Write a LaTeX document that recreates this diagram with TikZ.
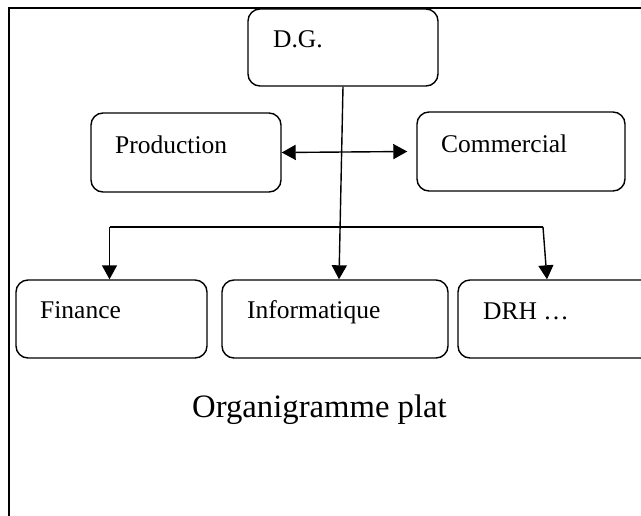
\documentclass[tikz,border=0pt]{standalone}
\usepackage{fontspec}
\setmainfont{Liberation Serif}
\usetikzlibrary{arrows.meta}
\tikzset{
  unit/.style={draw, rounded corners=12pt, line width=1.4pt, inner sep=0pt},
  lbl/.style={anchor=base west, inner sep=0pt, font=\fontsize{25.5}{30}\selectfont},
  tip/.tip={Triangle[length=14pt,width=15pt]},
  arr/.style={line width=1.4pt, -tip},
  dblarr/.style={line width=1.4pt, tip-tip},
  frame/.style={line width=2pt}
}
\begin{document}
\begin{tikzpicture}[x=1pt,y=-1pt]
  \useasboundingbox (0,0) rectangle (641,515);

  % outer frame (top and left sides)
  \coordinate (ftl) at (8.5,7.5);
  \coordinate (ftr) at (650,7.5);
  \coordinate (fbl) at (8.5,525);
  \draw[frame] (ftr) -- (ftl) -- (fbl);

  % units
  \node[unit, minimum width=190pt, minimum height=77pt] (dg)   at (343,47.5)  {};
  \node[unit, minimum width=190pt, minimum height=79pt] (prod) at (186,152.5) {};
  \node[unit, minimum width=208pt, minimum height=79pt] (com)  at (521,151.5) {};
  \node[unit, minimum width=191pt, minimum height=78pt] (fin)  at (111.5,319) {};
  \node[unit, minimum width=226pt, minimum height=78pt] (info) at (335,319)   {};
  \node[unit, minimum width=204pt, minimum height=78pt] (drh)  at (560,319)   {};

  % unit names
  \node[lbl] (dg-t)   at (273,47)  {D.G.};
  \node[lbl] (prod-t) at (115,153) {Production};
  \node[lbl] (com-t)  at (441,152) {Commercial};
  \node[lbl] (fin-t)  at (40,318)  {Finance};
  \node[lbl] (info-t) at (247,318) {Informatique};
  \node[lbl] (drh-t)  at (483,319) {DRH …};

  % links
  \draw[dblarr] (prod.east) -- ([xshift=-9pt]com.west);
  \draw[arr] (dg.south) -- ([xshift=4pt]info.north);
  \coordinate (bl) at (109.5,227);
  \coordinate (br) at (543,227);
  \draw[line width=1.4pt] (bl) -- (br);
  \draw[arr] (bl) -- (fin.north -| bl);
  \draw[arr] (br) -- ([xshift=-13pt]drh.north);

  % caption
  \node[anchor=base west, inner sep=0pt, font=\fontsize{32.7}{38}\selectfont] (cap) at (192,417) {Organigramme plat};
\end{tikzpicture}
\end{document}
